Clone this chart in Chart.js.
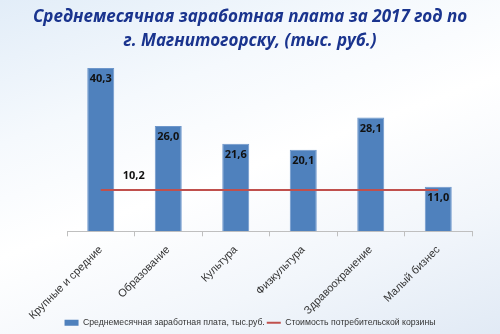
<!DOCTYPE html>
<html>
<head>
<meta charset="utf-8">
<script src="https://cdn.jsdelivr.net/npm/chart.js@4.4.1/dist/chart.umd.min.js"></script>
<style>
html,body{margin:0;padding:0;}
body{width:500px;height:334px;overflow:hidden;
background:linear-gradient(160deg,#e2edf8 0%,#f5f9fd 28%,#ffffff 50%,#f2f6fb 75%,#e1eaf5 100%);}
#wrap{position:relative;width:500px;height:334px;}
</style>
</head>
<body>
<div id="wrap"><canvas id="c" width="500" height="334"></canvas></div>
<script>
const categories = ["Крупные и средние","Образование","Культура","Физкультура","Здравоохранение","Малый бизнес"];
const salaries = [40.3, 26.0, 21.6, 20.1, 28.1, 11.0];
const basket = [10.2, 10.2, 10.2, 10.2, 10.2, 10.2];
const titleLines = ["Среднемесячная заработная плата за 2017 год по","г. Магнитогорску, (тыс. руб.)"];
const seriesNames = ["Среднемесячная заработная плата, тыс.руб.","Стоимость потребительской корзины"];

const fmt = v => v.toFixed(1).replace('.', ',');

const labelPlugin = {
  id: 'valueLabels',
  afterDatasetsDraw(chart) {
    const ctx = chart.ctx;
    ctx.save();
    ctx.font = 'bold 11px "Open Sans", sans-serif';
    ctx.fillStyle = '#111';
    ctx.textAlign = 'center';
    ctx.textBaseline = 'middle';
    const barMeta = chart.getDatasetMeta(0);
    barMeta.data.forEach((el, i) => {
      ctx.fillText(fmt(salaries[i]), el.x, el.y + 11);
    });
    const lineMeta = chart.getDatasetMeta(1);
    const p = lineMeta.data[0];
    ctx.fillText(fmt(basket[0]), p.x + 33, p.y - 14);
    ctx.restore();
  }
};

new Chart(document.getElementById('c'), {
  data: {
    labels: categories,
    datasets: [
      {
        type: 'bar',
        label: seriesNames[0],
        data: salaries,
        backgroundColor: '#4F81BD',
        borderColor: '#6E97CB',
        borderWidth: 1,
        barPercentage: 0.8,
        categoryPercentage: 0.5,
        order: 2
      },
      {
        type: 'line',
        label: seriesNames[1],
        data: basket,
        borderColor: '#C0504D',
        backgroundColor: '#C0504D',
        borderWidth: 2,
        pointRadius: 0,
        fill: false,
        order: 1
      }
    ]
  },
  options: {
    responsive: false,
    animation: false,
    devicePixelRatio: 1,
    layout: { padding: { left: 0, right: 0, top: 0, bottom: -3 } },
    plugins: {
      title: {
        display: true,
        text: titleLines,
        color: '#1A348E',
        font: { family: '"Open Sans", sans-serif', size: 17, weight: 'bold', style: 'italic', lineHeight: '24px' },
        padding: { top: 5, bottom: 0 }
      },
      legend: {
        position: 'bottom',
        labels: {
          color: '#333',
          font: { family: '"Liberation Sans", Arial, sans-serif', size: 8.7 },
          usePointStyle: true,
          boxHeight: 6,
          pointStyleWidth: 14,
          padding: 2,
          generateLabels(chart) {
            return chart.data.datasets.map((ds, i) => ({
              text: ds.label,
              fillStyle: ds.backgroundColor,
              strokeStyle: i === 0 ? ds.backgroundColor : ds.borderColor,
              lineWidth: i === 0 ? 0 : 2,
              pointStyle: i === 0 ? 'rect' : 'line',
              datasetIndex: i,
              hidden: false,
              fontColor: '#333'
            }));
          }
        }
      },
      tooltip: { enabled: false }
    },
    scales: {
      x: {
        grid: { drawOnChartArea: false, color: '#BFBFBF', tickLength: 5, offset: true },
        border: { color: '#BFBFBF', width: 1 },
        ticks: {
          color: '#333',
          font: { family: '"Liberation Sans", Arial, sans-serif', size: 11 },
          minRotation: 45,
          maxRotation: 45,
          padding: 7
        },
        afterFit(scale) {
          scale.paddingLeft = 67;
          scale.paddingRight = 28;
          scale.height = 85;
          scale._computeLabelArea = function () {
            return { top: 0, left: 0, bottom: this.chart.height, right: this.chart.width };
          };
        }
      },
      y: {
        display: false,
        min: 0,
        max: 44
      }
    }
  },
  plugins: [labelPlugin]
});
</script>
</body>
</html>
